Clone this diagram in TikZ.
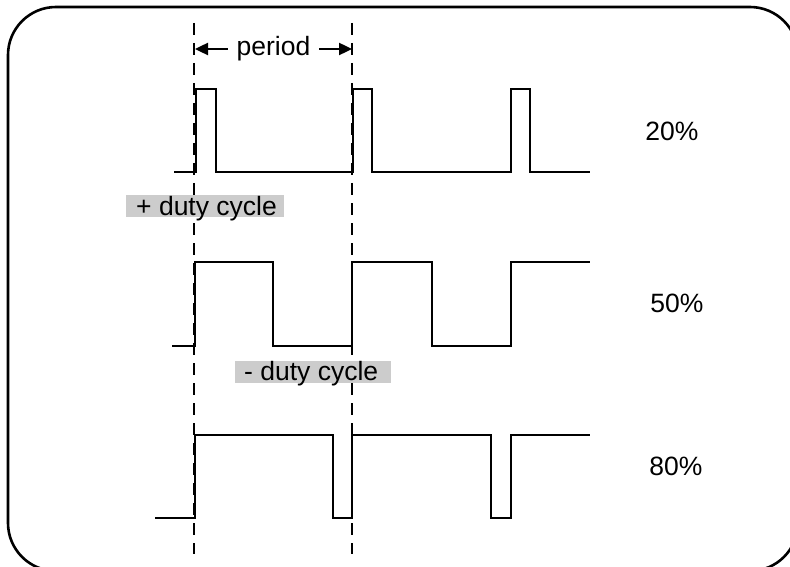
\documentclass[tikz,border=0pt]{standalone}
\usepackage{fontspec}
\setmainfont{Liberation Sans}
\usetikzlibrary{arrows.meta}
\begin{document}
\begin{tikzpicture}[x=1pt,y=-1pt,
  wave/.style={line width=2.5pt,line join=miter},
  dashline/.style={line width=2.4pt,dash pattern=on 12pt off 8pt},
  frame/.style={line width=2.6pt,rounded corners=48pt},
  lbl/.style={font=\fontsize{26.5}{30}\selectfont,inner sep=0pt},
  graybox/.style={lbl,fill=gray!40,text height=20pt,text depth=2pt,inner ysep=0pt},
  arr/.style={line width=2.4pt,-{Triangle[length=13pt,width=12pt]}}]
\useasboundingbox (0,0) rectangle (790,567);
\draw[frame] (8,7) rectangle (798,571);
% dashed period markers
\coordinate (d1t) at (194,23); \coordinate (d1b) at (194,554);
\coordinate (d2t) at (352,23); \coordinate (d2b) at (352,554);
\draw[dashline] (d1t) -- (d1b);
\draw[dashline] (d2t) -- (d2b);
% period label and arrows
\node[lbl,inner xsep=8.5pt,anchor=base] (per) at (273.5,56) {period};
\coordinate (at1) at (195,49);
\coordinate (at2) at (352,49);
\draw[arr] (per.west |- at1) -- (at1);
\draw[arr] (per.east |- at2) -- (at2);
% 20% waveform
\draw[wave] (174,172) -- (196,172) -- (196,89) -- (216,89) -- (216,172) -- (353,172) -- (353,89) -- (372,89) -- (372,172) -- (511,172) -- (511,89) -- (530,89) -- (530,172) -- (590,172);
% 50% waveform
\draw[wave] (172,346) -- (195,346) -- (195,262) -- (273,262) -- (273,346) -- (352,346) -- (352,262) -- (432,262) -- (432,346) -- (511,346) -- (511,262) -- (590,262);
% 80% waveform
\draw[wave] (155,518) -- (195,518) -- (195,435) -- (333,435) -- (333,518) -- (352,518) -- (352,435) -- (491,435) -- (491,518) -- (511,518) -- (511,435) -- (590,435);
% percentage labels
\node[lbl,anchor=base] (p20) at (672,141) {20\%};
\node[lbl,anchor=base] (p50) at (677,312) {50\%};
\node[lbl,anchor=base] (p80) at (676,475) {80\%};
% duty cycle labels
\node[graybox,inner xsep=10pt,anchor=base west] (pos) at (126,215) {\makebox[138pt][l]{+ duty cycle}};
\node[graybox,inner xsep=9pt,text height=19pt,text depth=3pt,anchor=base west] (neg) at (235,380) {\makebox[138pt][l]{- duty cycle}};
\end{tikzpicture}
\end{document}
